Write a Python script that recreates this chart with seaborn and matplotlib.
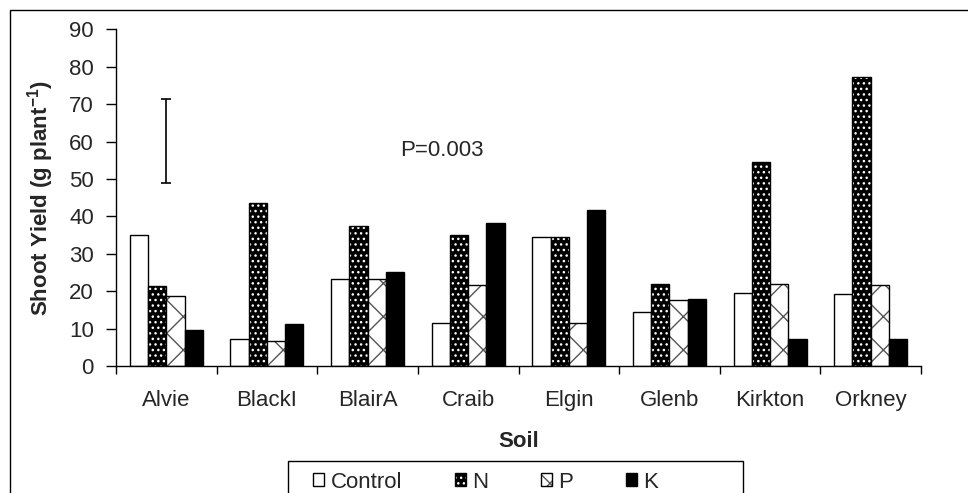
import numpy as np
import pandas as pd
import matplotlib
matplotlib.use("Agg")
import matplotlib.pyplot as plt
from matplotlib.patches import Patch, Rectangle
from matplotlib.colors import to_rgba
import seaborn as sns

# Shoot yield per soil and fertiliser treatment
soils = ["Alvie", "BlackI", "BlairA", "Craib", "Elgin", "Glenb", "Kirkton", "Orkney"]
treatments = ["Control", "N", "P", "K"]
control = [35.0, 7.1, 23.3, 11.5, 34.5, 14.5, 19.6, 19.3]
nitrogen = [21.3, 43.6, 37.3, 35.0, 34.5, 22.0, 54.5, 77.2]
phosphorus = [18.6, 6.8, 23.3, 21.6, 11.4, 17.7, 21.9, 21.6]
potassium = [9.5, 11.2, 25.1, 38.1, 41.7, 17.8, 7.2, 7.2]
lsd_bounds = [49.0, 71.3]
p_value_text = "P=0.003"
y_ticks = list(range(0, 100, 10))

df = pd.DataFrame({
    "Soil": soils * 4,
    "Treatment": np.repeat(treatments, len(soils)),
    "Yield": control + nitrogen + phosphorus + potassium,
})

sns.set_style("ticks")
plt.rcParams["font.family"] = ["Liberation Sans", "DejaVu Sans"]
plt.rcParams["mathtext.fontset"] = "custom"
plt.rcParams["mathtext.rm"] = "Liberation Sans"
plt.rcParams["mathtext.bf"] = "Liberation Sans:bold"
plt.rcParams["hatch.linewidth"] = 1.0

FS = 16
W, H = 968, 493
fig = plt.figure(figsize=(W / 100, H / 100), dpi=100)
ax = fig.add_axes([116 / W, 1 - 366 / H, (921 - 116) / W, (366 - 29.3) / H])

palette = {"Control": "white", "N": "black", "P": "white", "K": "black"}
sns.barplot(data=df, x="Soil", y="Yield", hue="Treatment", order=soils,
            hue_order=treatments, palette=palette, width=0.726, gap=0,
            dodge=True, saturation=1, legend=False, ax=ax)

# fill style for each treatment: (face, hatch, hatch colour)
styles = {
    "Control": ("white", "", "black"),
    "N": ("black", "...", "white"),
    "P": ("white", "x", "#555555"),
    "K": ("black", "", "black"),
}


def style_patch(p, name):
    face, hatch, hcol = styles[name]
    p.set_facecolor(face)
    p.set_edgecolor("black")
    p.set_linewidth(1.0)
    p.set_hatch(hatch)
    p._hatch_color = to_rgba(hcol)


for cont, name in zip(ax.containers, treatments):
    for p in cont.patches:
        style_patch(p, name)

# least significant difference bar
lsd_mid = (lsd_bounds[0] + lsd_bounds[1]) / 2
lsd_half = (lsd_bounds[1] - lsd_bounds[0]) / 2
ax.errorbar([0], [lsd_mid], yerr=[lsd_half], fmt="none", ecolor="black",
            elinewidth=1.2, capsize=3.4, capthick=1.2)
ax.text(2.32, 57.7, p_value_text, fontsize=FS, ha="left", va="center")

ax.set_xlim(-0.5, len(soils) - 0.5)
ax.set_ylim(0, 90)
ax.set_yticks(y_ticks)
ax.set_xticks(np.arange(-0.5, len(soils), 1.0))
ax.set_xticklabels([])
ax.set_xticks(np.arange(len(soils)), minor=True)
ax.set_xticklabels(soils, minor=True)
ax.tick_params(axis="x", which="major", length=6, width=1, color="black")
ax.tick_params(axis="x", which="minor", length=0, pad=17, labelsize=FS)
ax.tick_params(axis="y", length=7, width=1, pad=9, labelsize=FS, color="black")
for s in ["top", "right"]:
    ax.spines[s].set_visible(False)
for s in ["left", "bottom"]:
    ax.spines[s].set_color("black")
    ax.spines[s].set_linewidth(1.0)

ax.set_xlabel("Soil", fontsize=FS, fontweight="bold", labelpad=15)
ax.set_ylabel(r"Shoot Yield (g plant$^{\mathbf{-1}}$)", fontsize=FS,
              fontweight="bold", labelpad=9)

# legend with the same fills as the bars
handles = []
for name in treatments:
    h = Patch(label=name)
    style_patch(h, name)
    handles.append(h)
fig.legend(handles=handles, loc="center left",
           bbox_to_anchor=(302 / W, 1 - 482 / H), ncol=4, frameon=False,
           fontsize=FS, borderpad=0, handlelength=0.5, handleheight=0.5,
           handletextpad=0.3, columnspacing=2.35)
fig.add_artist(Rectangle((288 / W, -0.05), (743 - 288) / W,
                         (1 - 461 / H) + 0.05, transform=fig.transFigure,
                         fill=False, edgecolor="black", linewidth=1.0))

# outer chart border
fig.add_artist(Rectangle((10 / W, -0.1), 1.2, (1 - 10 / H) + 0.1,
                         transform=fig.transFigure, fill=False,
                         edgecolor="black", linewidth=1.0))

fig.savefig("out.png", dpi=100)
